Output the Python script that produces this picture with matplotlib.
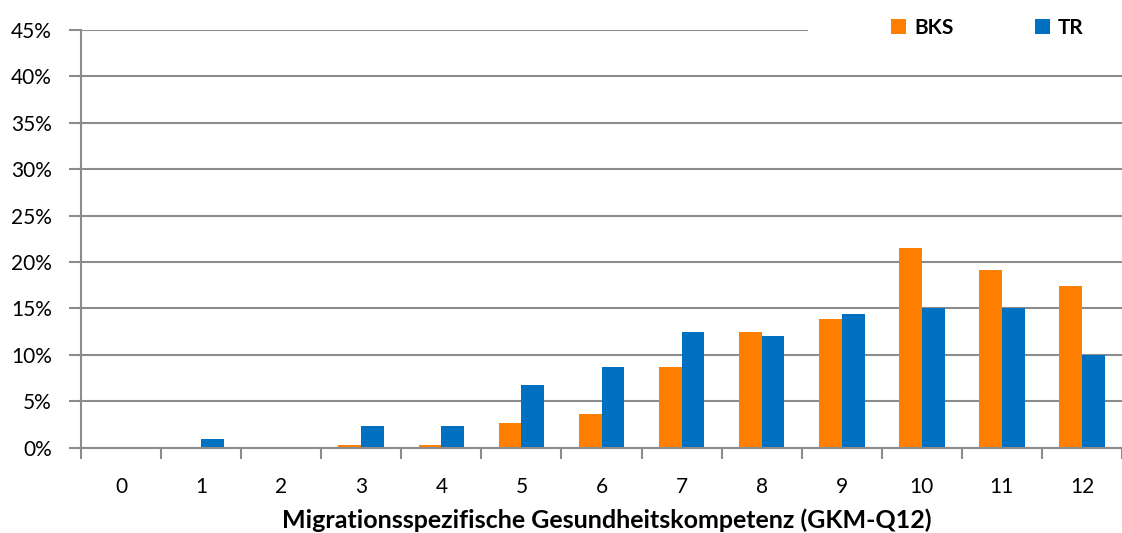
import matplotlib.pyplot as plt
import numpy as np
from matplotlib.ticker import FuncFormatter
from matplotlib.patches import Rectangle

plt.rcParams['font.family'] = ['Lato', 'DejaVu Sans']

categories = ['0', '1', '2', '3', '4', '5', '6', '7', '8', '9', '10', '11', '12']
bks = [0.0, 0.0, 0.0, 0.3, 0.3, 2.6, 3.6, 8.7, 12.4, 13.8, 21.5, 19.1, 17.4]
tr = [0.0, 0.9, 0.0, 2.3, 2.3, 6.7, 8.7, 12.4, 12.0, 14.4, 15.0, 15.0, 10.0]

orange = '#FF8000'
blue = '#0070C0'
grid_c = '#8C8C8C'

W, H = 1122, 533
fig = plt.figure(figsize=(W / 100, H / 100), dpi=100)
ax = fig.add_axes([81 / W, 1 - 447.5 / H, (W - 81) / W, 417.5 / H])

x = np.arange(len(categories))
w = 0.285
ax.bar(x - w / 2, bks, w, color=orange, label='BKS', zorder=3)
ax.bar(x + w / 2, tr, w, color=blue, label='TR', zorder=3)

ax.set_ylim(0, 45)
ax.set_yticks(np.arange(0, 46, 5))
ax.yaxis.set_major_formatter(FuncFormatter(lambda v, p: f'{v:.0f}%'))
ax.set_xlim(-0.5, -0.5 + 1041 / 80.8)
ax.set_xticks(x)
ax.set_xticklabels(categories)
ax.set_xticks(np.arange(-0.5, 13, 1), minor=True)
ax.tick_params(axis='x', which='major', length=0, pad=21, labelsize=15)
ax.tick_params(axis='x', which='minor', length=8, width=1.5, color=grid_c)
ax.tick_params(axis='y', length=9, width=1.5, color=grid_c, labelsize=15, pad=12)

ax.grid(axis='y', color=grid_c, linewidth=1.5, zorder=0)
for s in ['top', 'right']:
    ax.spines[s].set_visible(False)
for s in ['left', 'bottom']:
    ax.spines[s].set_color(grid_c)
    ax.spines[s].set_linewidth(1.5)
ax.spines['bottom'].set_zorder(4)

ax.set_xlabel('Migrationsspezifische Gesundheitskompetenz (GKM-Q12)',
              fontsize=18, fontweight='bold')
ax.xaxis.set_label_coords((607 - 81) / 1041, (447.5 - 508) / 417.5)

# white legend area hiding the top gridline
ax.add_patch(Rectangle(((808 - 81) / 1041, 0.96), 1.0, 0.08,
                       transform=ax.transAxes, facecolor='white',
                       edgecolor='none', zorder=2, clip_on=False))

leg = ax.legend(loc='center left', bbox_to_anchor=(891 / W, 1 - 28 / H),
                bbox_transform=fig.transFigure, ncol=2, frameon=False,
                handlelength=0.72, handleheight=0.72, columnspacing=3.9,
                handletextpad=0.38, borderpad=0, borderaxespad=0,
                prop={'weight': 'bold', 'size': 15})

fig.savefig('out.png', dpi=100)
